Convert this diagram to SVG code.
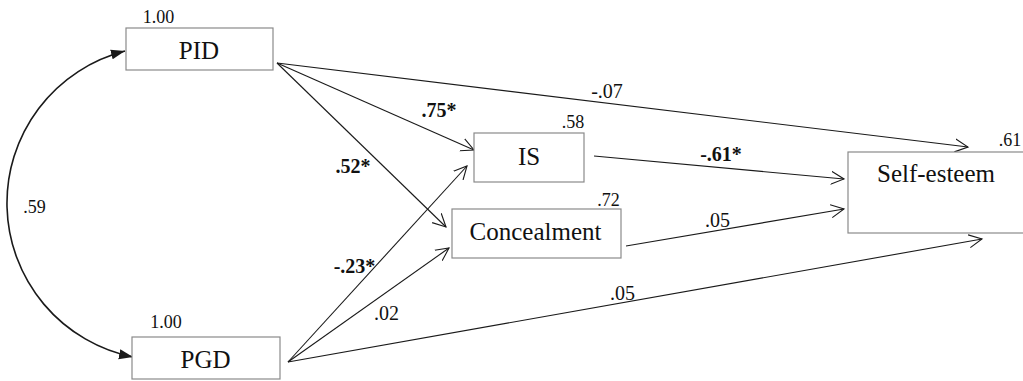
<svg xmlns="http://www.w3.org/2000/svg" width="1023" height="381" viewBox="0 0 1023 381" font-family="'Liberation Serif', 'Times New Roman', Times, 'DejaVu Serif', serif">
<style>
text{font-family:"Liberation Serif","Times New Roman",Times,"DejaVu Serif",serif;fill:#111;text-anchor:middle}
.box{fill:#fff;stroke:#8a8a8a;stroke-width:1.2}
.lbl{font-size:25px}
.var{font-size:18px}
.coef{font-size:20px}
.b{font-weight:bold}
.edge{fill:none;stroke:#1a1a1a;stroke-width:1.1;marker-end:url(#open)}
.cov{fill:none;stroke:#1a1a1a;stroke-width:1.6;marker-start:url(#solid);marker-end:url(#solid)}
</style>
<defs>
<marker id="open" markerUnits="userSpaceOnUse" markerWidth="16" markerHeight="16" refX="13" refY="6.5" orient="auto" viewBox="0 0 16 13">
<path d="M0,0 L13,6.5 L0,13" fill="none" stroke="#1a1a1a" stroke-width="1.1"/>
</marker>
<marker id="solid" markerUnits="userSpaceOnUse" markerWidth="16" markerHeight="12" refX="14" refY="5" orient="auto-start-reverse" viewBox="0 0 16 10">
<path d="M0,0 L14,5 L0,10 Z" fill="#1a1a1a"/>
</marker>
</defs>
<g id="connectors">
<path class="cov" d="M125,51 A157,157 0 0 0 133,357"/>
<line class="edge" x1="277" y1="63" x2="968" y2="147"/>
<line class="edge" x1="277" y1="63" x2="474" y2="150"/>
<line class="edge" x1="277" y1="63" x2="446" y2="227"/>
<line class="edge" x1="288" y1="362" x2="467" y2="166"/>
<line class="edge" x1="288" y1="362" x2="449" y2="248"/>
<line class="edge" x1="288" y1="362" x2="982" y2="239"/>
<line class="edge" x1="594" y1="156" x2="844" y2="179"/>
<line class="edge" x1="626" y1="246" x2="844" y2="209"/>
<text class="var" x="34.5" y="213">.59</text>
<text class="coef" x="607" y="98">-.07</text>
<text class="coef b" x="439" y="117">.75*</text>
<text class="coef b" x="353" y="173">.52*</text>
<text class="coef b" x="721" y="161">-.61*</text>
<text class="coef" x="717.5" y="227">.05</text>
<text class="coef b" x="354.5" y="273">-.23*</text>
<text class="coef" x="386.5" y="320">.02</text>
<text class="coef" x="622.5" y="300">.05</text>
</g>
<g id="PID">
<rect class="box" x="126" y="28" width="147" height="42"/>
<text class="lbl" x="199" y="59">PID</text>
<text class="var" x="158.5" y="23">1.00</text>
</g>
<g id="PGD">
<rect class="box" x="132" y="337" width="148" height="42"/>
<text class="lbl" x="205.5" y="368">PGD</text>
<text class="var" x="166" y="328">1.00</text>
</g>
<g id="IS">
<rect class="box" x="474" y="133" width="110" height="49"/>
<text class="lbl" x="529" y="165">IS</text>
<text class="var" x="573" y="128">.58</text>
</g>
<g id="Concealment">
<rect class="box" x="452" y="209" width="169" height="49"/>
<text class="lbl" x="535.5" y="240">Concealment</text>
<text class="var" x="608.5" y="206">.72</text>
</g>
<g id="SelfEsteem">
<rect class="box" x="848" y="152" width="185" height="81"/>
<text class="lbl" x="936" y="182">Self-esteem</text>
<text class="var" x="1010" y="146">.61</text>
</g>
</svg>
